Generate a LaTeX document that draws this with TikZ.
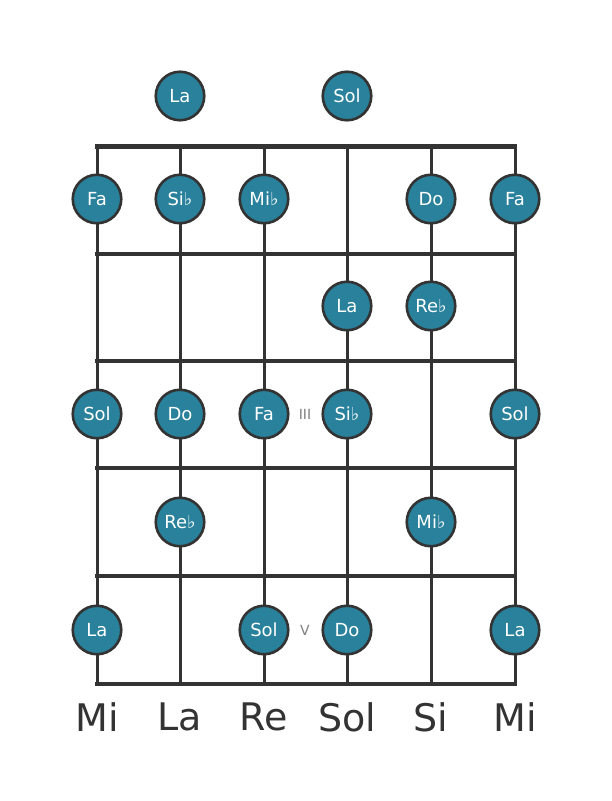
\documentclass[tikz,border=0pt]{standalone}
\usepackage{fontspec}
\setmainfont{DejaVu Sans}
\definecolor{notefill}{HTML}{29819C}
\definecolor{linegray}{HTML}{333333}
\tikzset{
  note/.style={circle,fill=notefill,draw=linegray,line width=2.6pt,minimum size=48.5pt,inner sep=0pt,text=white,font=\fontsize{18}{18}\selectfont},
  fret/.style={draw=linegray,line width=4pt},
  gtrstring/.style={draw=linegray,line width=3pt},
  marker/.style={text=gray,font=\fontsize{14}{14}\selectfont},
  tuning/.style={text=linegray,font=\fontsize{38}{38}\selectfont}
}
\begin{document}
\begin{tikzpicture}[x=1pt,y=-1pt]
    \useasboundingbox (0,0) rectangle (611,801);
    % strings
    \draw[gtrstring] (97,146) -- (97,684);
    \draw[gtrstring] (180,146) -- (180,684);
    \draw[gtrstring] (264,146) -- (264,684);
    \draw[gtrstring] (347,146) -- (347,684);
    \draw[gtrstring] (431,146) -- (431,684);
    \draw[gtrstring] (515,146) -- (515,684);

    % frets
    \draw[fret,line width=5pt] (95,146) -- (517,146);
    \draw[fret] (95,254) -- (517,254);
    \draw[fret] (95,361) -- (517,361);
    \draw[fret] (95,468) -- (517,468);
    \draw[fret] (95,576) -- (517,576);
    \draw[fret] (95,684) -- (517,684);

    \node[marker] (mkIII) at (305,414) {III};
    \node[marker] (mkV) at (305,630) {V};

    % open strings
    \node[note] (o2) at (180,96) {La};
    \node[note] (o4) at (347,96) {Sol};

    % fret 1
    \node[note] (f1s1) at (97,199) {Fa};
    \node[note] (f1s2) at (180,199) {Si♭};
    \node[note] (f1s3) at (264,199) {Mi♭};
    \node[note] (f1s5) at (431,199) {Do};
    \node[note] (f1s6) at (515,199) {Fa};

    % fret 2
    \node[note] (f2s4) at (347,306) {La};
    \node[note] (f2s5) at (431,306) {Re♭};

    % fret 3
    \node[note] (f3s1) at (97,414) {Sol};
    \node[note] (f3s2) at (180,414) {Do};
    \node[note] (f3s3) at (264,414) {Fa};
    \node[note] (f3s4) at (347,414) {Si♭};
    \node[note] (f3s6) at (515,414) {Sol};

    % fret 4
    \node[note] (f4s2) at (180,522) {Re♭};
    \node[note] (f4s5) at (431,522) {Mi♭};

    % fret 5
    \node[note] (f5s1) at (97,630) {La};
    \node[note] (f5s3) at (264,630) {Sol};
    \node[note] (f5s4) at (347,630) {Do};
    \node[note] (f5s6) at (515,630) {La};

    % tuning
    \node[tuning] (t1) at (97,717) {Mi};
    \node[tuning] (t2) at (180,717) {La};
    \node[tuning] (t3) at (264,717) {Re};
    \node[tuning] (t4) at (347,717) {Sol};
    \node[tuning] (t5) at (431,717) {Si};
    \node[tuning] (t6) at (515,717) {Mi};
\end{tikzpicture}
\end{document}
